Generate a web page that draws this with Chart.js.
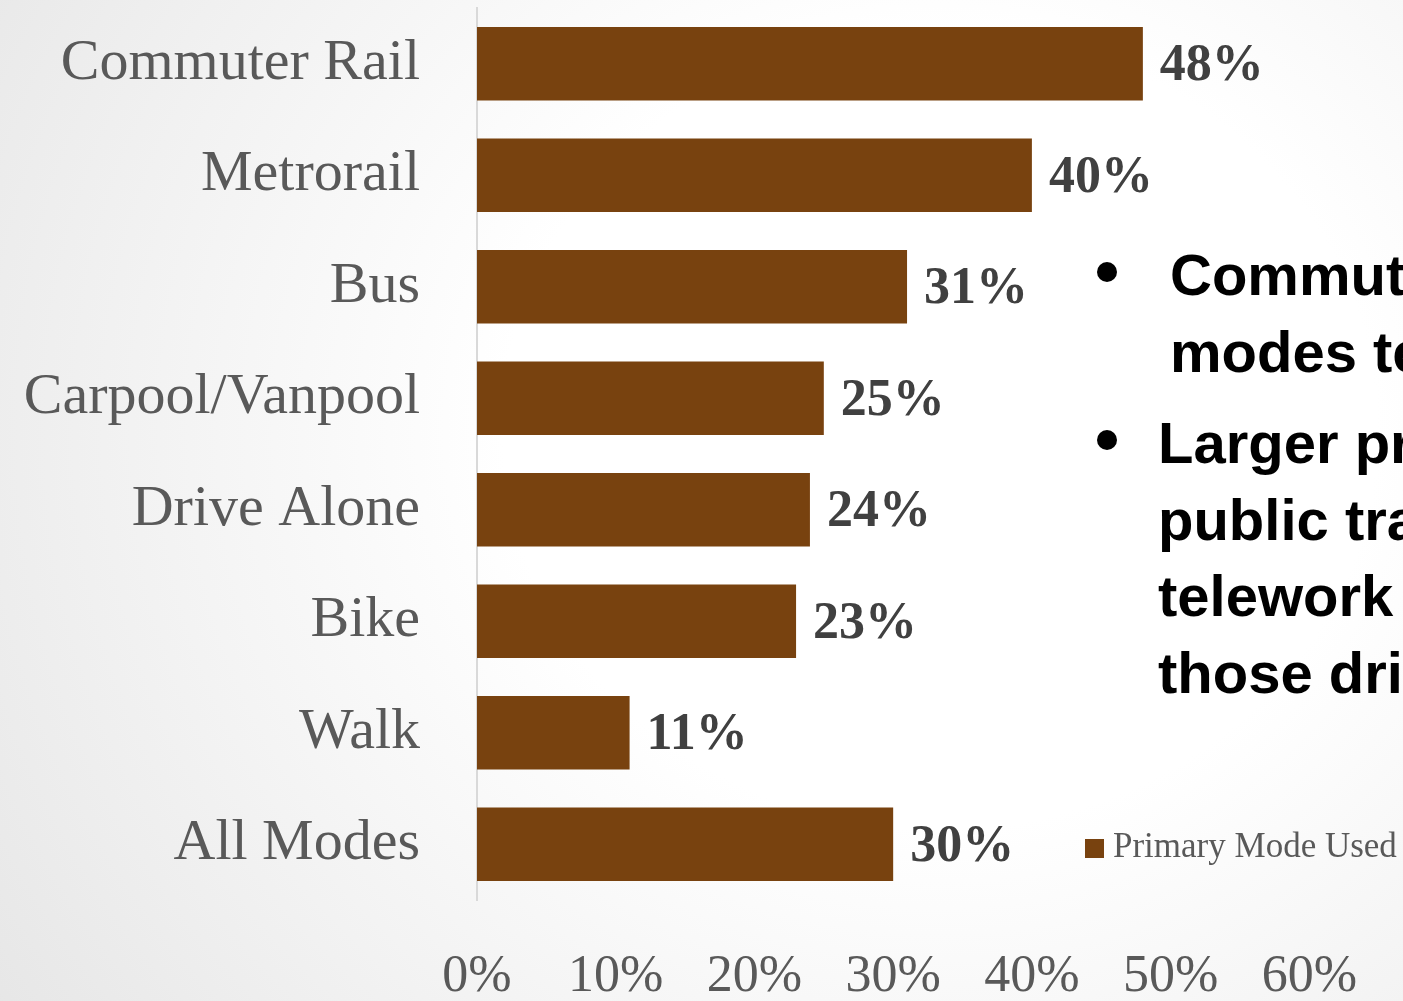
<!DOCTYPE html>
<html>
<head>
<meta charset="utf-8">
<script src="https://cdn.jsdelivr.net/npm/chart.js@4.4.1/dist/chart.umd.min.js"></script>
<style>
  html, body { margin: 0; padding: 0; width: 1403px; height: 1001px; overflow: hidden; }
  body {
    position: relative;
    background: radial-gradient(ellipse 1150px 1050px at 940px 430px, #ffffff 0%, #ffffff 38%, #e6e6e6 100%);
  }
  #chart { position: absolute; left: 0; top: 0; }
  .notes { position: absolute; left: 0; top: 0; width: 1403px; height: 1001px; overflow: hidden; pointer-events: none; }
  .para { position: absolute; white-space: nowrap; font-family: "Liberation Sans", Arial, sans-serif;
          font-weight: bold; font-size: 58px; line-height: 76.5px; color: #000; }
  .dot { position: absolute; width: 20px; height: 20px; border-radius: 50%; background: #000; }
  #legend { position: absolute; left: 1085px; top: 826px; display: flex; align-items: center; white-space: nowrap;
            font-family: "Liberation Serif", serif; font-size: 35px; color: #595959; }
  #legend .swatch { width: 19px; height: 19px; margin-right: 9px; margin-top: 4px; }
</style>
</head>
<body>
<canvas id="chart" width="1403" height="1001"></canvas>
<div class="notes" id="notes"></div>
<div id="legend"></div>
<script>
// Share of commuters who telework, by primary commute mode
const categories = ['Commuter Rail', 'Metrorail', 'Bus', 'Carpool/Vanpool', 'Drive Alone', 'Bike', 'Walk', 'All Modes'];
const teleworkShare = [48, 40, 31, 25, 24, 23, 11, 30];
const xTickValues = [0, 10, 20, 30, 40, 50, 60];
const seriesName = 'Primary Mode Used';
const barColor = '#78420f';

// Side notes next to the chart (each entry is one bullet, split into lines)
const notePoints = [
  { lines: ['Commuters using', 'modes tend to'], top: 237, left: 1170, dotTop: 262 },
  { lines: ['Larger proportion', 'public transit', 'telework than', 'those driving'], top: 405, left: 1158, dotTop: 430 }
];

// Percentage labels at the end of each bar
const valueLabels = {
  id: 'valueLabels',
  afterDatasetsDraw(chart) {
    const ctx = chart.ctx;
    const ds = chart.data.datasets[0];
    const meta = chart.getDatasetMeta(0);
    ctx.save();
    ctx.font = 'bold 52px "Liberation Serif"';
    ctx.fillStyle = '#404040';
    ctx.textAlign = 'left';
    ctx.textBaseline = 'middle';
    meta.data.forEach((bar, i) => {
      ctx.fillText(ds.data[i] + '%', bar.x + 17, bar.y + 3);
    });
    ctx.restore();
  }
};

const chart = new Chart(document.getElementById('chart'), {
  type: 'bar',
  data: {
    labels: categories,
    datasets: [{
      label: seriesName,
      data: teleworkShare,
      backgroundColor: barColor,
      borderWidth: 0,
      barPercentage: 0.66,
      categoryPercentage: 1
    }]
  },
  options: {
    indexAxis: 'y',
    responsive: false,
    animation: false,
    layout: { padding: { top: 8, right: 89, left: 0, bottom: 0 } },
    plugins: { legend: { display: false }, tooltip: { enabled: false } },
    scales: {
      x: {
        min: 0,
        max: 60,
        afterBuildTicks: (scale) => { scale.ticks = xTickValues.map(v => ({ value: v })); },
        afterFit: (scale) => { scale.height = 101; },
        ticks: {
          callback: (v) => v + '%',
          color: '#595959',
          font: { family: 'Liberation Serif', size: 52 },
          padding: 46,
          maxRotation: 0,
          autoSkip: false
        },
        grid: { display: false, drawTicks: false },
        border: { display: false }
      },
      y: {
        afterFit: (scale) => {
          scale.width = 477;
          scale.paddingTop = 0;
          scale.paddingBottom = 0;
        },
        ticks: {
          color: '#595959',
          font: { family: 'Liberation Serif', size: 58 },
          padding: 57,
          autoSkip: false
        },
        grid: { display: false, drawTicks: false },
        border: { display: true, color: '#d9d9d9', width: 2 }
      }
    }
  },
  plugins: [valueLabels]
});

// Legend built from the dataset
const legend = document.getElementById('legend');
chart.data.datasets.forEach(ds => {
  const sw = document.createElement('span');
  sw.className = 'swatch';
  sw.style.background = ds.backgroundColor;
  const tx = document.createElement('span');
  tx.textContent = ds.label;
  legend.appendChild(sw);
  legend.appendChild(tx);
});

// Bullet notes
const notes = document.getElementById('notes');
notePoints.forEach(p => {
  const dot = document.createElement('div');
  dot.className = 'dot';
  dot.style.left = '1097px';
  dot.style.top = p.dotTop + 'px';
  notes.appendChild(dot);
  const para = document.createElement('div');
  para.className = 'para';
  para.style.left = p.left + 'px';
  para.style.top = p.top + 'px';
  para.innerHTML = p.lines.join('<br>');
  notes.appendChild(para);
});
</script>
</body>
</html>
